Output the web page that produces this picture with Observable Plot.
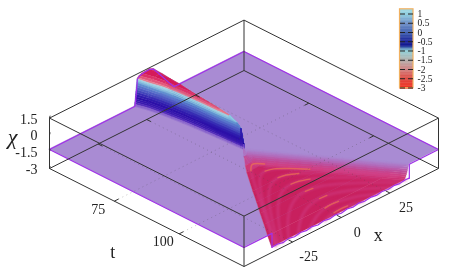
<!DOCTYPE html>
<html>
<head>
<meta charset="utf-8">
<script src="https://cdn.jsdelivr.net/npm/d3@7"></script>
<script src="https://cdn.jsdelivr.net/npm/@observablehq/plot@0.6"></script>
<style>
html,body{margin:0;padding:0;background:#fff}
#c{width:449px;height:270px;overflow:hidden}
svg{display:block;filter:blur(.3px)}
svg text{font-family:"Liberation Serif","Times New Roman",serif !important}
</style>
</head>
<body>
<div id="c"></div>
<script>
// axes
const tTicks = [75, 100];
const xTicks = [-25, 0, 25];
const chiTicks = [1.5, 0, -1.5, -3];
const legendTicks = [1, 0.5, 0, -0.5, -1, -1.5, -2, -2.5, -3];

// surface colours against chi
const chiStops  = [-3, -2.8, -2.55, -2.35, -2, -1.6, -1.3, -1.15, -1, -0.6, -0.3, 0, 0.3, 0.6, 0.85, 1, 1.02, 1.1, 1.2, 1.3, 1.4];
const chiColors = ["#ec7450","#d84060","#c8205e","#d0407f","#c04a98","#b070c0","#a98bd3","#6a40c4","#3d1cb0","#2c10a8","#3020b0","#4448bc","#5468c8","#6090d0","#8cc8e0","#a8d4e4","#e88c98","#e66a84","#e04070","#d82060","#d0104e"];

// colour box palette
const paletteChi = [1.25, 1, 0.5, 0, -0.5, -0.72, -0.85, -1, -1.5, -2, -2.5, -3, -3.05];
const paletteColors = ["#a0d8e4","#8fd0e0","#6f90c8","#4060b0","#182098","#101890","#5080b8","#90d0d8","#b4b0ac","#d08080","#e04840","#f03020","#f03020"];

// flat sheet level
const sheetChi = -1.3;

// ridge: rows of t, x at which each chi level is reached, crest height of each row
const ridgeT = [50, 54, 58, 62, 66, 70, 74, 78, 82, 85, 86.5, 87.5, 88];
const ridgeCrest = [1.35, 1.4, 1.42, 1.4, 1.33, 1.27, 1.22, 1.15, 1.05, 0.72, 0.4, -0.9, -1.3];
const ridgeLevels = [-1.3,-1.15,-1,-0.85,-0.7,-0.5,-0.3,-0.1,0.1,0.3,0.5,0.7,0.85,0.95,1.02,1.1,1.2,1.3,1.4];
const ridgeX = [
 [-6.2,-6,-5.85,-5.75,-5.65,-5.55,-5.45,-5.35,-5.25,-5.15,-5.05,-4.95,-4.9,-4.85,-4.8,-4.5,-3.8,-2.4,1.5],
 [-4.6,-4.45,-4.35,-4.28,-4.22,-4.18,-4.14,-4.1,-4.07,-4.04,-4.02,-4,-3.98,-3.9,-3.8,-3.2,-2.2,-1,1.6],
 [-3.6,-3.48,-3.4,-3.34,-3.28,-3.23,-3.19,-3.15,-3.12,-3.09,-3.06,-3.03,-3,-2.7,-2.3,-1.9,-1.2,-0.3,1.5],
 [-2.9,-2.78,-2.68,-2.6,-2.54,-2.48,-2.43,-2.39,-2.35,-2.31,-2.27,-2.24,-2.2,-1.9,-1.6,-1.2,-0.7,-0.1,1.3],
 [-2.3,-2.2,-2.12,-2.06,-2.01,-1.97,-1.93,-1.9,-1.87,-1.84,-1.81,-1.78,-1.75,-1.5,-1.2,-0.9,-0.4,0.6,0.9],
 [-1.8,-1.72,-1.66,-1.6,-1.56,-1.53,-1.5,-1.47,-1.45,-1.42,-1.4,-1.37,-1.35,-1.1,-0.85,-0.55,-0.1,0.6,0.6],
 [-1.35,-1.29,-1.24,-1.2,-1.17,-1.14,-1.12,-1.1,-1.08,-1.06,-1.04,-1.02,-1,-0.85,-0.65,-0.35,0.1,0.3,0.3],
 [-1,-0.95,-0.92,-0.89,-0.87,-0.85,-0.83,-0.82,-0.81,-0.79,-0.78,-0.76,-0.75,-0.62,-0.45,-0.1,0.15,0.15,0.15],
 [-0.6,-0.56,-0.53,-0.5,-0.48,-0.46,-0.45,-0.44,-0.43,-0.42,-0.41,-0.4,-0.4,-0.25,-0.1,0.05,0.05,0.05,0.05],
 [-0.3,-0.28,-0.26,-0.24,-0.22,-0.2,-0.18,-0.16,-0.14,-0.1,-0.05,0,0,0,0,0,0,0,0],
 [-0.15,-0.14,-0.13,-0.12,-0.11,-0.1,-0.08,-0.06,-0.03,0,0,0,0,0,0,0,0,0,0],
 [-0.05,-0.03,-0.01,0,0,0,0,0,0,0,0,0,0,0,0,0,0,0,0],
 [0,0,0,0,0,0,0,0,0,0,0,0,0,0,0,0,0,0,0]
];
const flankLevels = [1.2, 0.6, 0, -0.6, -1.3];
const flankX = [
 [3.5,6,8.5,11,14],[3.2,4.5,6,7.5,9],[2.6,3.5,4.5,5.5,6.5],[2.2,3,3.8,4.5,5],[1.6,2.2,2.8,3.3,3.8],
 [1.2,1.6,2,2.4,2.8],[0.8,1.1,1.4,1.7,2],[0.5,0.7,0.9,1.1,1.3],[0.3,0.4,0.5,0.6,0.7],
 [0.15,0.2,0.25,0.3,0.35],[0.05,0.07,0.09,0.11,0.13],[0,0,0,0,0],[0,0,0,0,0]
];

// basin behind the ridge tip
const basinT     = [87.5, 88.5, 90, 92, 95, 100, 105, 110, 115, 120, 125];
const basinLeft  = [0, -0.95, -2.4, -4.3, -7.1, -11.9, -16.6, -21.4, -26.1, -30.9, -35.6];
const basinRight = [0, 0.9, 2.3, 4.2, 7, 11.6, 16.3, 20.9, 25.6, 30.2, 35];
const basinFloor = [-1.3, -1.8, -2.3, -2.5, -2.55, -2.55, -2.55, -2.55, -2.55, -2.55, -2.55];
const wallOffset = [0, 0.2, 0.4, 0.6, 0.8, 1, 1.3, 1.6, 2, 2.5];
const wallChi    = [-1.3, -1.42, -1.55, -1.7, -1.85, -2, -2.15, -2.3, -2.45, -2.55];
const frontX   = [-35.6,-33,-30,-27,-24,-21,-18,-15,-12,-9,-6,-3,0,3,6,9,12,15,18,21,24,27,30,33,35];
const frontChi = [-2.55,-2.5,-2.62,-2.5,-2.62,-2.5,-2.6,-2.5,-2.62,-2.5,-2.6,-2.5,-2.62,-2.5,-2.6,-2.5,-2.6,-2.52,-2.6,-2.52,-2.6,-2.52,-2.6,-2.52,-2.55];

// ripple crests in the basin, as x,t pairs
const ripples = [
 [[-34,125],[-32,122.9],[-26,116.5],[-20,110.2],[-14,103.9],[-9,98.7],[-5,94.6],[-2,91.7],[1.5,89.5],[5,91.7],[9,95.6],[14,100.9],[20,107.1],[26,113.4],[33,120.5]],
 [[-33.5,125],[-26,117.2],[-20,111.2],[-14,105.2],[-9,100.6],[-5,97.3],[-2,95.4],[1.5,94.5],[5,95.4],[9,98.1],[14,102.4],[20,108.2],[26,114.2],[33.5,121.5]],
 [[-32.2,125],[-26,118.8],[-20,113.1],[-14,107.7],[-9,103.8],[-5,101.3],[-2,100.1],[1.5,99.5],[5,100.1],[9,101.9],[14,105.3],[20,110.4],[26,116],[33,122.5]],
 [[-30.2,125],[-26,121],[-20,115.8],[-14,111.1],[-9,107.8],[-5,105.8],[-2,104.9],[1.5,104.5],[5,104.9],[9,106.2],[14,109],[20,113.4],[26,118.4],[33,125]],
 [[-27,125],[-20,119.4],[-14,115.3],[-9,112.6],[-5,111],[-2,110.3],[1.5,110],[5,110.3],[9,111.3],[14,113.6],[20,117.3],[26,121.7],[30,125]],
 [[-22.2,125],[-14,119.9],[-9,117.6],[-5,116.3],[-2,115.7],[1.5,115.5],[5,115.7],[9,116.6],[14,118.5],[20,121.6],[25.2,125]],
 [[-16.3,125],[-9,122],[-5,120.8],[-2,120.2],[1.5,120],[5,120.2],[9,121.1],[14,122.7],[19.3,125]],
 [[-8.5,125],[-5,124.2],[-2,123.7],[1.5,123.5],[5,123.7],[11.5,125]]
];
const rippleGlow = [[0,-2,5],[1,1.5,14],[2,1.5,9],[3,1.5,9],[4,1.5,5],[5,1.5,5],[6,-2,5],[7,-2,5]];

const K = 11.2 / 98;
const ox = (x, t) => (x + 50) / 100 + (t - 50) / 75;
const oy = (x, t, c) => (t - 50) / 75 - (x + 50) / 100 - (c + 3) * K;
const P = (x, t, c) => ({x, t, c, ox: ox(x, t), oy: oy(x, t, c)});

// one series of two records per quad, back to front
function quads(grid) {
  const cells = [];
  for (let i = 0; i + 1 < grid.length; i++) for (let j = 0; j + 1 < grid[i].length; j++) {
    const [a, b, c, d] = [grid[i][j], grid[i][j + 1], grid[i + 1][j + 1], grid[i + 1][j]];
    const tone = (a.c + b.c + c.c + d.c) / 4;
    const depth = [a, b, c, d].reduce((s, p) => s + (p.t - 50) / 75 - (p.x + 50) / 100, 0);
    cells.push({a, b, c, d, tone, depth});
  }
  cells.sort((p, q) => p.depth - q.depth);
  return cells.flatMap((q, id) => [
    {id, tone: q.tone, x1: q.a.ox, y1: q.a.oy, x2: q.d.ox, y2: q.d.oy},
    {id, tone: q.tone, x1: q.b.ox, y1: q.b.oy, x2: q.c.ox, y2: q.c.oy}
  ]);
}

const ridgeGrid = ridgeT.map((t, i) => [
  ...ridgeLevels.map((l, j) => P(ridgeX[i][j], t, Math.min(l, ridgeCrest[i]))),
  ...flankLevels.map((l, j) => P(flankX[i][j], t, Math.min(l, ridgeCrest[i])))
]);
const basinGrid = basinT.map((t, i) => [
  ...wallOffset.map((o, j) => P(Math.max(basinRight[i] - o, basinLeft[i]), t, Math.max(wallChi[j], basinFloor[i]))),
  P(basinLeft[i], t, basinFloor[i])
]);

const sheet = quads([[P(-50, 50, sheetChi), P(50, 50, sheetChi)], [P(-50, 125, sheetChi), P(50, 125, sheetChi)]]);
const leftWall = basinT.map((t, i) => ({
  t, x1: ox(basinLeft[i], t), y1: oy(basinLeft[i], t, sheetChi), x2: ox(basinLeft[i], t), y2: oy(basinLeft[i], t, basinFloor[i])
}));

const rippleLines = ripples.flatMap((r, id) => r.map(([x, t]) => ({id, ...P(x, t, -2.55)})));
const glowLines = rippleGlow.flatMap(([k, a, b], id) => ripples[k].filter(([x]) => x >= a && x <= b).map(([x, t]) => ({id, ...P(x, t, -2.55)})));

// violet rim of the sheet
const rim = [
  [...[[-50, sheetChi]], ...ridgeGrid[0].map(p => [p.x, p.c]), [50, sheetChi]].map(([x, c]) => P(x, 50, c)),
  [P(50, 50, sheetChi), P(50, 125, sheetChi)],
  [P(-50, 50, sheetChi), P(-50, 125, sheetChi)],
  [P(-50, 125, sheetChi), P(-35.6, 125, sheetChi), P(-35.6, 125, -2.55)],
  frontX.map((x, i) => P(x, 125, frontChi[i])),
  [P(35, 125, -2.55), P(35, 125, sheetChi), P(50, 125, sheetChi)]
].flatMap((r, id) => r.map(p => ({id, ...p})));

// box
const boxSegs = [
  [-50,50,-3,50,50,-3],[50,50,-3,50,125,-3],[50,125,-3,-50,125,-3],[-50,125,-3,-50,50,-3],
  [-50,50,1.5,50,50,1.5],[50,50,1.5,50,125,1.5],[50,125,1.5,-50,125,1.5],[-50,125,1.5,-50,50,1.5],
  [-50,50,-3,-50,50,1.5],[50,50,-3,50,50,1.5],[50,125,-3,50,125,1.5],[-50,125,-3,-50,125,1.5]
].map(([a,b,c,d,e,f]) => ({x1: ox(a,b), y1: oy(a,b,c), x2: ox(d,e), y2: oy(d,e,f)}));

const seg = (p, q) => ({x1: ox(p[0], p[1]), y1: oy(p[0], p[1], p[2]), x2: ox(q[0], q[1]), y2: oy(q[0], q[1], q[2])});
const grids = [...tTicks.map(t => seg([-50,t,-3],[50,t,-3])), ...xTicks.map(x => seg([x,50,-3],[x,125,-3]))];
const tickLinks = [
  ...tTicks.flatMap(t => [seg([-50,t,-3],[-47.8,t,-3]), seg([50,t,-3],[47.8,t,-3])]),
  ...xTicks.flatMap(x => [seg([x,125,-3],[x,123.4,-3]), seg([x,50,-3],[x,51.6,-3])])
];
const chiLinks = chiTicks.map(c => seg([-50,50,c],[-48.6,49.2,c]));

// colour box, placed in pixels of the frame
const lx = p => (p - 49) / 194.5;
const ly = p => -1.5143 + (p - 19.6) / 98;
const legY = c => 13.5 + (1 - c) * 18.5;
const legendColor = d3.scaleLinear().domain(paletteChi).range(paletteColors).clamp(true);
const legendCells = d3.range(1.24, -3.04, -0.04).map(c => ({c, y1: ly(legY(c)), y2: ly(legY(c - 0.04) + 0.4)}));
const legendDash = legendTicks.flatMap(c => [
  {x1: lx(400), x2: lx(405), y: ly(legY(c))},
  {x1: lx(408), x2: lx(413), y: ly(legY(c))}
]);

const soft = b => ({render: (i, s, v, d, c, next) => { const g = next(i, s, v, d, c); g.style.filter = `blur(${b}px)`; return g; }});
const FF = "Liberation Serif";
const INK = "#222";
const area = (data, extra) => Plot.area(data, {x1: "x1", y1: "y1", x2: "x2", y2: "y2", z: "id", fill: "tone", stroke: "tone", strokeWidth: 0.4, ...extra});

const chart = Plot.plot({
  width: 449, height: 270,
  marginTop: 0, marginRight: 0, marginBottom: 0, marginLeft: 0,
  x: {domain: [0, 2], range: [49, 438], axis: null},
  y: {domain: [-1.5143, 1], range: [19.6, 266], axis: null},
  color: {type: "linear", domain: chiStops, range: chiColors, clamp: true, legend: false},
  style: {background: "#fff", fontFamily: FF},
  marks: [
    area(sheet, {}),
    area(quads(ridgeGrid), soft(0.7)),
    Plot.area(leftWall, {x1: "x1", y1: "y1", x2: "x2", y2: "y2", fill: "#cfcfc0", ...soft(0.4)}),
    area(quads(basinGrid), soft(0.6)),
    Plot.line(rippleLines, {x: "ox", y: "oy", z: "id", stroke: "#d2408a", strokeWidth: 2.8, strokeOpacity: 0.5, curve: "catmull-rom", ...soft(0.8)}),
    Plot.line(glowLines, {x: "ox", y: "oy", z: "id", stroke: "#ec7450", strokeWidth: 1.4, strokeOpacity: 0.7, curve: "catmull-rom", ...soft(0.6)}),
    Plot.line(rim, {x: "ox", y: "oy", z: "id", stroke: "#a030e8", strokeWidth: 1.2}),
    Plot.link(grids, {x1: "x1", y1: "y1", x2: "x2", y2: "y2", stroke: "#444", strokeOpacity: 0.4, strokeWidth: 0.8, strokeDasharray: "1,3.5"}),
    Plot.link(boxSegs, {x1: "x1", y1: "y1", x2: "x2", y2: "y2", stroke: "#333", strokeWidth: 1}),
    Plot.link(tickLinks, {x1: "x1", y1: "y1", x2: "x2", y2: "y2", stroke: "#333", strokeWidth: 1}),
    Plot.link(chiLinks, {x1: "x1", y1: "y1", x2: "x2", y2: "y2", stroke: "#333", strokeWidth: 1}),
    Plot.text(chiTicks, {x: () => ox(-50, 50), y: c => oy(-50, 50, c), text: c => String(c), textAnchor: "end", dx: -12, dy: 1, fontFamily: FF, fontSize: 14, fill: INK}),
    Plot.text(tTicks, {x: t => ox(-50, t), y: t => oy(-50, t, -3), text: t => String(t), dx: -16, dy: 8, fontFamily: FF, fontSize: 14, fill: INK}),
    Plot.text(xTicks, {x: x => ox(x, 125), y: x => oy(x, 125, -3), text: x => String(x), dx: 16, dy: 15, fontFamily: FF, fontSize: 14, fill: INK}),
    Plot.text(["t"], {x: () => ox(-50, 87.5), y: () => oy(-50, 87.5, -3), text: d => d, dx: -34, dy: 35, fontFamily: FF, fontSize: 18, fill: INK}),
    Plot.text(["x"], {x: () => ox(0, 125), y: () => oy(0, 125, -3), text: d => d, dx: 37, dy: 18, fontFamily: FF, fontSize: 18, fill: INK}),
    Plot.text(["χ"], {x: () => ox(-50, 50), y: () => oy(-50, 50, 0), text: d => d, dx: -37, dy: 2, fontFamily: FF, fontStyle: "italic", fontSize: 22, fill: INK}),
    Plot.rect(legendCells, {x1: () => lx(399.5), x2: () => lx(413), y1: "y1", y2: "y2", fill: {value: d => legendColor(d.c), scale: null}}),
    Plot.rect([0], {x1: () => lx(399.5), x2: () => lx(413), y1: () => ly(8.8), y2: () => ly(87.7), fill: "none", stroke: "#f0b060", strokeWidth: 1.2}),
    Plot.ruleY(legendDash, {x1: "x1", x2: "x2", y: "y", stroke: "#222", strokeWidth: 1}),
    Plot.text(legendTicks, {x: () => lx(417), y: c => ly(legY(c)), text: c => String(c), textAnchor: "start", fontFamily: FF, fontSize: 9.5, fill: INK})
  ]
});
document.getElementById("c").appendChild(chart);
</script>
</body>
</html>
